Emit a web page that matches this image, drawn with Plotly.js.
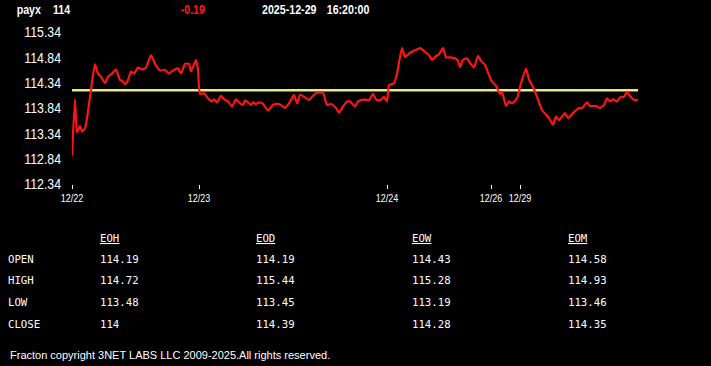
<!DOCTYPE html>
<html><head><meta charset="utf-8">
<script src="https://cdn.plot.ly/plotly-3.0.1.min.js"></script>
<style>html,body{margin:0;padding:0;background:#000;}#chart{width:711px;height:366px;}</style>
</head><body><div id="chart"></div>
<script>
const symbol = 'payx';
const lastPrice = '114';
const change = '-0.19';
const stampDate = '2025-12-29';
const stampTime = '16:20:00';

const bars = [0,3,5,8,10,13,16,19,23,26,29,33,36,40,44,48,50,53,56,59,62,66,70,74,79,83,88,93,97,101,106,109,113,117,119,124,126,128,132,136,140,142,145,149,153,156,160,164,167,171,173,176,179,181,184,187,191,196,201,205,209,213,217,222,225,228,233,237,242,245,251,255,259,264,267,271,275,278,283,286,290,295,297,301,304,308,312,315,317,322,325,330,333,338,343,348,353,357,360,363,367,371,374,378,383,386,388,391,395,398,402,406,409,413,417,420,424,428,430,434,437,440,445,449,454,457,461,465,470,477,481,484,487,493,496,501,507,510,515,518,524,528,532,535,538,541,545,548,552,555,559,562,566];
const prices = [112.90,114.01,113.36,113.49,113.38,113.44,113.77,114.20,114.70,114.52,114.46,114.33,114.46,114.52,114.60,114.39,114.38,114.31,114.39,114.56,114.52,114.64,114.60,114.64,114.88,114.71,114.58,114.59,114.52,114.58,114.62,114.52,114.71,114.71,114.56,114.79,114.59,114.12,114.13,114.03,113.97,114.01,113.95,114.08,114.00,113.97,113.87,114.01,113.95,113.90,113.99,113.95,113.90,113.95,113.92,113.95,113.92,113.79,113.90,113.92,113.90,113.84,113.93,114.10,113.93,114.10,114.05,114.00,114.10,114.14,114.14,113.90,113.92,113.84,113.75,113.87,113.97,113.97,113.87,113.97,114.00,114.00,113.99,114.12,114.01,113.99,114.06,113.97,114.29,114.33,114.52,115.02,114.85,114.93,114.98,115.02,114.95,114.88,114.79,114.85,114.90,115.02,114.84,114.84,114.82,114.77,114.65,114.79,114.82,114.73,114.64,114.87,114.77,114.69,114.49,114.36,114.28,114.12,114.16,113.88,113.97,113.93,114.03,114.33,114.62,114.40,114.26,114.06,113.80,113.64,113.51,113.67,113.60,113.74,113.64,113.74,113.84,113.84,113.95,113.88,113.88,113.84,113.90,114.03,113.97,114.01,113.97,114.05,114.06,114.16,114.05,114.00,114.00];

const dayTickBars = [0,127,315,419,448];
const dayTickLabels = ['12/22','12/23','12/24','12/26','12/29'];
const yTicks = [112.34,112.84,113.34,113.84,114.34,114.84,115.34];
const refLevel = 114.19;

const tableCols = ['EOH','EOD','EOW','EOM'];
const rowLabels = ['OPEN','HIGH','LOW','CLOSE'];
const eohVals = ['114.19','114.72','113.48','114'];
const eodVals = ['114.19','115.44','113.45','114.39'];
const eowVals = ['114.43','115.28','113.19','114.28'];
const eomVals = ['114.58','114.93','113.46','114.35'];
const footerText = 'Fracton copyright 3NET LABS LLC 2009-2025.All rights reserved.';

const W = 711, H = 366, ML = 72, MR = 11, MT = 32, MB = 182;
const PW = W - ML - MR, PH = H - MT - MB;
function ann(text, xPx, yPx, font, anchor) {
  return {text: text, xref: 'paper', yref: 'paper', x: (xPx - ML) / PW, y: 1 - (yPx - MT) / PH,
    xanchor: anchor || 'left', yanchor: 'middle', showarrow: false, font: font, borderpad: 0};
}
const sansFam = '"Liberation Sans", Arial, sans-serif';
const headFont = {family: sansFam, size: 13, color: '#ffffff', weight: 'bold'};
const mono = {family: '"DejaVu Sans Mono", "Liberation Mono", monospace', size: 10.7, color: '#ffffff'};

const annotations = [
  ann('<b>' + symbol + '</b>', 29, 10, headFont, 'center'),
  ann('<b>' + lastPrice + '</b>', 62, 10, headFont, 'center'),
  ann('<b>' + change + '</b>', 193, 10, Object.assign({}, headFont, {color: '#ff1a1a'}), 'center'),
  ann('<b>' + stampDate + '</b>', 289.5, 10, headFont, 'center'),
  ann('<b>' + stampTime + '</b>', 347.5, 10, headFont, 'center'),
  ann(footerText, 9, 355, {family: sansFam, size: 11, color: '#ffffff'})
];
const NARROW_COUNT = 5;
const colX = [99, 255, 411, 567];
const rowY = [259, 280.5, 302, 324];
const colVals = [eohVals, eodVals, eowVals, eomVals];
tableCols.forEach((c, i) => annotations.push(ann('<u>' + c + '</u>', colX[i], 238, mono)));
rowLabels.forEach((r, j) => annotations.push(ann(r, 7, rowY[j], mono)));
colVals.forEach((vals, i) => vals.forEach((v, j) => annotations.push(ann(v, colX[i], rowY[j], mono))));

const traces = [
  {x: [bars[0], bars[bars.length - 1]], y: [refLevel, refLevel], mode: 'lines',
   line: {color: '#e8e884', width: 2.5}, hoverinfo: 'skip'},
  {x: bars, y: prices, mode: 'lines', line: {color: '#ff1414', width: 2.2, shape: 'spline', smoothing: 0.5}, hoverinfo: 'skip'}
];
const layout = {
  width: W, height: H, margin: {l: ML, r: MR, t: MT, b: MB, pad: 0},
  paper_bgcolor: '#000000', plot_bgcolor: '#000000', showlegend: false,
  xaxis: {range: [0, PW], tickvals: dayTickBars, ticktext: dayTickLabels, tickangle: 0, showgrid: false, zeroline: false,
    showline: false, ticks: 'outside', ticklen: 4, tickcolor: '#ffffff', tickwidth: 1,
    tickfont: {family: sansFam, size: 11, color: '#ffffff'}},
  yaxis: {range: [112.34, 115.34], tickvals: yTicks, ticktext: yTicks.map(v => v.toFixed(2)), showgrid: false,
    zeroline: false, showline: false, ticks: '', ticklabelstandoff: 10,
    tickfont: {family: sansFam, size: 15, color: '#ffffff'}},
  annotations: annotations
};
function condense(el, k) {
  const x = parseFloat(el.getAttribute('x')) || 0, y = parseFloat(el.getAttribute('y')) || 0;
  const t = el.getAttribute('transform') || '';
  el.setAttribute('transform', t + ' translate(' + x + ',' + y + ') scale(' + k + ',1) translate(' + (-x) + ',' + (-y) + ')');
}
Plotly.newPlot('chart', traces, layout, {staticPlot: true, displayModeBar: false}).then(gd => {
  gd.querySelectorAll('.xtick text, .ytick text').forEach(el => condense(el, 0.82));
  gd.querySelectorAll('g.annotation').forEach(g => {
    const idx = parseInt(g.getAttribute('data-index'), 10);
    if (idx < NARROW_COUNT) g.querySelectorAll('text').forEach(el => condense(el, 0.82));
  });
});
</script></body></html>
